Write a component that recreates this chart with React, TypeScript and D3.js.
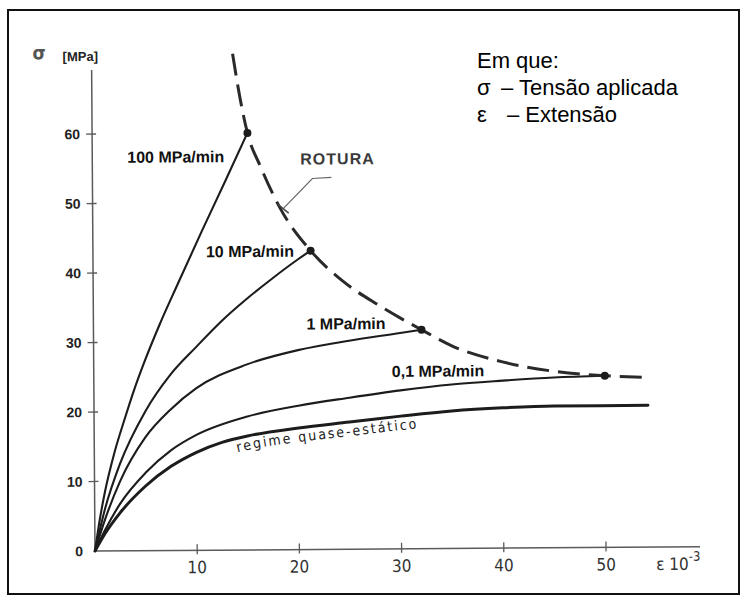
import React from 'react';
import * as d3 from 'd3';

// Axis ticks
const STRESS_TICKS = [0, 10, 20, 30, 40, 50, 60];
const STRAIN_TICKS = [10, 20, 30, 40, 50];

// Stress–strain curves [strain ×10^-3, stress MPa] for each loading rate
const RATE_100: [number, number][] = [
  [0, 0], [0.5, 4.6], [1, 8.4], [2, 14.3], [3, 19], [4, 23.4], [5, 27.3],
  [6.5, 32.6], [8.3, 38.4], [10.6, 45.7], [13, 53.1], [15.2, 60],
];
const RATE_10: [number, number][] = [
  [0, 0], [1, 6], [2.5, 12.5], [5, 20], [7.5, 25.3], [10, 29.2], [12.5, 32.9],
  [15, 36.1], [17.5, 39], [20, 41.7], [21.3, 43],
];
const RATE_1: [number, number][] = [
  [0, 0], [1, 4.5], [2.5, 10], [5, 16.3], [7.5, 20.3], [10, 23.3], [15, 26.7],
  [20, 28.7], [25, 30], [30, 31.05], [32.1, 31.5],
];
const RATE_01: [number, number][] = [
  [0, 0], [1, 3], [2.5, 6.8], [5, 11.2], [7.5, 14.4], [10, 16.6], [15, 19.2],
  [20, 20.7], [25, 21.8], [30, 22.8], [35, 23.6], [40, 24.1], [45, 24.5], [50, 24.7],
];
const QUASI_STATIC: [number, number][] = [
  [0, 0], [1, 2.5], [2.5, 5.5], [5, 9.3], [7.5, 12.1], [10, 14.1], [12.5, 15.5],
  [15, 16.4], [20, 17.5], [25, 18.3], [30, 19.1], [35, 19.8], [40, 20.2],
  [45, 20.4], [54.2, 20.4],
];

// Rupture envelope and the failure point of each rate
const RUPTURE_ENVELOPE: [number, number][] = [
  [13.8, 71.4], [14.5, 65], [15.2, 60], [16.5, 55], [18.4, 49], [21.3, 43],
  [24.5, 38.5], [27.9, 35.1], [32.1, 31.5], [35, 29.2], [40, 26.8],
  [45, 25.4], [50, 24.7], [54.2, 24.4],
];
const RUPTURE_POINTS: [number, number][] = [[15.2, 60], [21.3, 43], [32.1, 31.5], [50, 24.7]];

const RATE_LABELS = ['100 MPa/min', '10 MPa/min', '1 MPa/min', '0,1 MPa/min'];
const LEGEND_SYMBOLS = ['σ', 'ε'];
const LEGEND_TEXTS = ['– Tensão aplicada', '– Extensão'];

const W = 741;
const H = 596;

const x = d3.scaleLinear().domain([0, 50]).range([95, 606]);
const y = d3.scaleLinear().domain([0, 60]).range([551, 134]);

const line = d3
  .line<[number, number]>()
  .x((d) => x(d[0]))
  .y((d) => y(d[1]))
  .curve(d3.curveMonotoneX);

// Path a little below the quasi-static curve, used to set its label
const labelPath = d3
  .line<[number, number]>()
  .x((d) => x(d[0]))
  .y((d) => y(d[1]) + 14)
  .curve(d3.curveMonotoneX);

const INK = '#1c1c1c';
const AXIS = '#5a5a5a';
const boldFont = "'Liberation Sans', Arial, sans-serif";
const scanFont = "'DejaVu Sans Condensed', 'DejaVu Sans', sans-serif";

export default function App() {
  const rateCurves = [RATE_100, RATE_10, RATE_1, RATE_01];
  const x0 = x(0);
  const y0 = y(0);
  return (
    <svg
      width={W}
      height={H}
      viewBox={`0 0 ${W} ${H}`}
      style={{ position: 'absolute', left: 0, top: 0, background: '#fff' }}
    >
      <rect x={0} y={0} width={W} height={H} fill="#fff" />
      <rect x={8} y={10} width={731} height={584} fill="none" stroke="#111" strokeWidth={2} />

      <g transform={`rotate(-0.4, ${x0}, ${y0})`}>
        {/* axes */}
        <line x1={x0} y1={y0} x2={x0} y2={70} stroke={AXIS} strokeWidth={1.5} />
        <line x1={x0} y1={y0} x2={700} y2={y0} stroke={AXIS} strokeWidth={1.5} />
        {STRESS_TICKS.map((t) => (
          <g key={`ys${t}`}>
            {t > 0 && <line x1={x0 - 6} x2={x0 + 4} y1={y(t)} y2={y(t)} stroke={AXIS} strokeWidth={1.3} />}
            <text
              x={x0 - 12}
              y={y(t) + 5}
              textAnchor="end"
              fontFamily={boldFont}
              fontWeight="bold"
              fontSize={14}
              fill="#222"
            >
              {t}
            </text>
          </g>
        ))}
        {STRAIN_TICKS.map((t) => (
          <g key={`xs${t}`}>
            <line x1={x(t)} x2={x(t)} y1={y0 - 6} y2={y0 + 4} stroke={AXIS} strokeWidth={1.3} />
            <text x={x(t)} y={y0 + 23} textAnchor="middle" fontFamily={scanFont} fontSize={17} fill="#333">
              {t}
            </text>
          </g>
        ))}
        <text x={656} y={y0 + 23} fontFamily={scanFont} fontSize={17} fill="#333">
          ε 10
          <tspan dy={-9} fontSize={13}>-3</tspan>
        </text>
        <text x={36} y={59} fontFamily={scanFont} fontWeight="bold" fontSize={19} fill="#555">σ</text>
        <text x={66} y={61} fontFamily={boldFont} fontWeight="bold" fontSize={13} fill="#222">[MPa]</text>

        {/* curves */}
        {rateCurves.map((c, i) => (
          <path key={`c${i}`} d={line(c) ?? ''} fill="none" stroke={INK} strokeWidth={2.1} strokeLinecap="round" />
        ))}
        <path d={line(QUASI_STATIC) ?? ''} fill="none" stroke={INK} strokeWidth={3} strokeLinecap="round" />
        <path
          d={line(RUPTURE_ENVELOPE) ?? ''}
          fill="none"
          stroke="#2a2a2a"
          strokeWidth={3}
          strokeDasharray="22 9"
        />
        {RUPTURE_POINTS.map((p, i) => (
          <circle key={`p${i}`} cx={x(p[0])} cy={y(p[1])} r={4} fill={INK} />
        ))}

        {/* rate labels */}
        <text x={130} y={163} fontFamily={boldFont} fontWeight="bold" fontSize={16} fill="#111">{RATE_LABELS[0]}</text>
        <text x={208} y={258} fontFamily={boldFont} fontWeight="bold" fontSize={16} fill="#111">{RATE_LABELS[1]}</text>
        <text x={308} y={331} fontFamily={boldFont} fontWeight="bold" fontSize={16} fill="#111">{RATE_LABELS[2]}</text>
        <text x={393} y={379} fontFamily={boldFont} fontWeight="bold" fontSize={16} fill="#111">{RATE_LABELS[3]}</text>

        {/* rupture label with leader */}
        <text x={303} y={166} fontFamily={boldFont} fontWeight="bold" fontSize={16} letterSpacing={1} fill="#3a3a3a">ROTURA</text>
        <polyline
          points={`334,179 315,180 ${x(18.4) + 3},${y(49) - 1}`}
          fill="none"
          stroke="#666"
          strokeWidth={1.2}
        />
        <line x1={x(18.4) - 3} y1={y(49) - 5} x2={x(18.4) + 8} y2={y(49) + 4} stroke="#444" strokeWidth={1.5} />

        <path id="qs-label-path" d={labelPath(QUASI_STATIC.filter((d) => d[0] >= 12.5 && d[0] <= 45)) ?? ''} fill="none" />
        <text fontFamily={scanFont} fontSize={14} letterSpacing={2} fill="#222">
          <textPath href="#qs-label-path" startOffset={16}>regime quase-estático</textPath>
        </text>
      </g>

      {/* legend */}
      <text x={477} y={68} fontFamily={boldFont} fontSize={22} fill="#000">Em que:</text>
      {LEGEND_SYMBOLS.map((s, i) => (
        <g key={`lg${i}`}>
          <text x={477} y={95 + i * 27} fontFamily={boldFont} fontSize={22} fill="#000">{s}</text>
          <text x={i === 0 ? 501 : 507} y={95 + i * 27} fontFamily={boldFont} fontSize={22} fill="#000">
            {LEGEND_TEXTS[i]}
          </text>
        </g>
      ))}
    </svg>
  );
}
